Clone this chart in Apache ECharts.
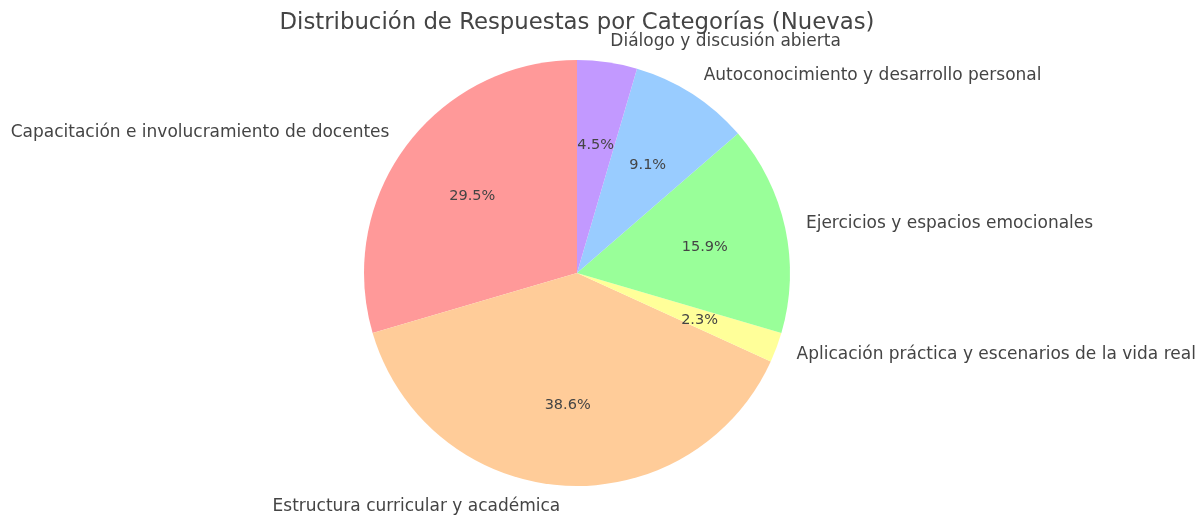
<!DOCTYPE html>
<html>
<head>
<meta charset="utf-8">
<script src="https://cdn.jsdelivr.net/npm/echarts@6/dist/echarts.min.js"></script>
<style>
  html, body { margin: 0; padding: 0; background: #fff; }
  #chart { width: 1196px; height: 515px; }
</style>
</head>
<body>
<div id="chart"></div>
<script>
// categorias, en el orden en que se dibujan (antihorario desde arriba)
var categories = [
    'Capacitación e involucramiento de docentes',
    'Estructura curricular y académica',
    'Aplicación práctica y escenarios de la vida real',
    'Ejercicios y espacios emocionales',
    'Autoconocimiento y desarrollo personal',
    'Diálogo y discusión abierta'
];
var counts = [13, 17, 1, 7, 4, 2];
var colors = ['#ff9999', '#ffcc99', '#ffff99', '#99ff99', '#99ccff', '#c299ff'];

var chart = echarts.init(document.getElementById('chart'));

var R = 213;
var font = 'DejaVu Sans';

var data = categories.map(function (name, i) {
    return { name: name, value: counts[i], itemStyle: { color: colors[i] } };
});

var option = {
    backgroundColor: '#fff',
    animation: false,
    title: {
        text: 'Distribución de Respuestas por Categorías (Nuevas)',
        left: 572,
        top: 7,
        textAlign: 'center',
        textStyle: { fontFamily: font, fontSize: 22.8, fontWeight: 'normal', color: '#444' }
    },
    series: [
        {
            // porciones + nombres fuera
            type: 'pie',
            center: [577, 273],
            radius: [0, R],
            startAngle: 90,
            clockwise: false,
            avoidLabelOverlap: false,
            silent: true,
            data: data,
            label: {
                show: true,
                position: 'outside',
                distanceToLabelLine: 0,
                fontFamily: font,
                fontSize: 17,
                color: '#444'
            },
            labelLine: { show: false, length: R * 0.1, length2: 0 }
        },
        {
            // porcentajes dentro (0.6 r)
            type: 'pie',
            center: [577, 275],
            radius: [0, R * 1.2],
            startAngle: 90,
            clockwise: false,
            silent: true,
            data: data.map(function (d) {
                return { name: d.name, value: d.value, itemStyle: { color: 'transparent' } };
            }),
            label: {
                show: true,
                position: 'inside',
                fontFamily: font,
                fontSize: 14.5,
                color: '#444',
                formatter: function (p) { return p.percent.toFixed(1) + '%'; }
            },
            labelLine: { show: false }
        }
    ]
};

chart.setOption(option);
</script>
</body>
</html>
